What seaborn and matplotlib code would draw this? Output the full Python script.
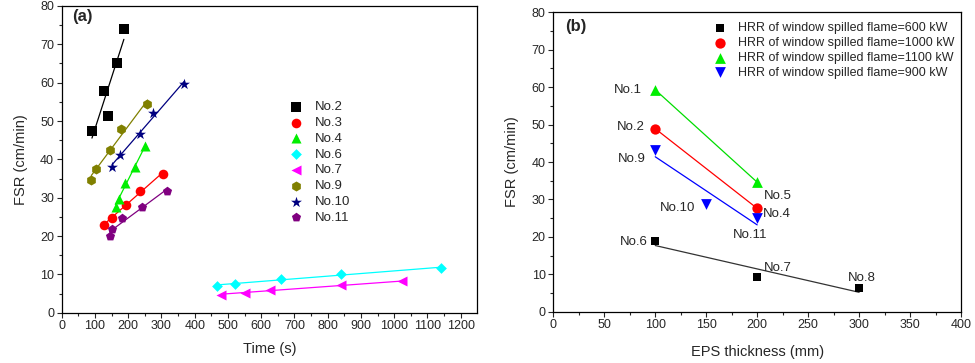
import numpy as np
import pandas as pd
import matplotlib
matplotlib.use("Agg")
import matplotlib.pyplot as plt
import seaborn as sns

sns.set_style("ticks")
plt.rcParams["font.family"] = ["Liberation Sans", "DejaVu Sans"]

# ---- Panel (a) data: FSR vs time ----
series_a = ["No.2", "No.3", "No.4", "No.6", "No.7", "No.9", "No.10", "No.11"]
t_no2 = [91, 127, 138, 165, 187]
f_no2 = [47.5, 57.9, 51.2, 65.0, 74.0]
t_no3 = [127, 150, 193, 235, 304]
f_no3 = [22.9, 24.7, 28.1, 31.7, 36.3]
t_no4 = [162, 171, 191, 219, 252]
f_no4 = [27.6, 29.7, 33.8, 38.0, 43.4]
t_no6 = [468, 520, 659, 841, 1142]
f_no6 = [7.0, 7.6, 8.8, 10.0, 11.7]
t_no7 = [480, 550, 627, 840, 1025]
f_no7 = [4.7, 5.2, 6.0, 7.1, 8.2]
t_no9 = [89, 102, 144, 179, 258]
f_no9 = [34.7, 37.5, 42.4, 47.8, 54.5]
t_no10 = [152, 174, 234, 276, 368]
f_no10 = [38.1, 41.1, 46.6, 52.2, 59.7]
t_no11 = [144, 152, 180, 242, 316]
f_no11 = [20.0, 21.7, 24.7, 27.6, 31.8]

# ---- Panel (b) data: FSR vs EPS thickness ----
hrr_labels = ["HRR of window spilled flame=600 kW",
              "HRR of window spilled flame=1000 kW",
              "HRR of window spilled flame=1100 kW",
              "HRR of window spilled flame=900 kW"]
eps_600 = [100, 200, 300]
fsr_600 = [18.8, 9.2, 6.3]
eps_1000 = [100, 200]
fsr_1000 = [48.9, 27.6]
eps_1100 = [100, 200]
fsr_1100 = [59.3, 34.6]
eps_900 = [100, 150, 200]
fsr_900 = [43.2, 28.7, 25.0]
case_names_b = ["No.1", "No.2", "No.9", "No.10", "No.5", "No.4", "No.11", "No.6", "No.7", "No.8"]

fig = plt.figure(figsize=(9.75, 3.63), dpi=100)
ax1 = fig.add_axes([0.0633, 0.1386, 0.4262, 0.8449])
ax2 = fig.add_axes([0.5675, 0.1413, 0.4182, 0.8248])

styles_a = [
    (t_no2, f_no2, "s", "black", 42),
    (t_no3, f_no3, "o", "red", 48),
    (t_no4, f_no4, "^", "#00ee00", 52),
    (t_no6, f_no6, "D", "cyan", 30),
    (t_no7, f_no7, "<", "magenta", 52),
    (t_no9, f_no9, "h", "#808000", 52),
    (t_no10, f_no10, "*", "#000080", 68),
    (t_no11, f_no11, "p", "#800080", 48),
]
for name, (tx, fy, mk, col, sz) in zip(series_a, styles_a):
    df = pd.DataFrame({"t": tx, "f": fy})
    sns.regplot(data=df, x="t", y="f", ax=ax1, ci=None, marker=mk, color=col,
                label=name,
                scatter_kws={"s": sz, "alpha": 1, "zorder": 3, "linewidths": 0},
                line_kws={"lw": 0.9, "zorder": 2})

styles_b = [
    (eps_600, fsr_600, "s", "black", "#333333", 38),
    (eps_1000, fsr_1000, "o", "red", "red", 55),
    (eps_1100, fsr_1100, "^", "#00ee00", "#00dd00", 60),
    (eps_900, fsr_900, "v", "blue", "blue", 60),
]
for name, (ex, fy, mk, col, lcol, sz) in zip(hrr_labels, styles_b):
    df = pd.DataFrame({"e": ex, "f": fy})
    sns.regplot(data=df, x="e", y="f", ax=ax2, ci=None, marker=mk, color=col,
                label=name,
                scatter_kws={"s": sz, "alpha": 1, "zorder": 3, "linewidths": 0},
                line_kws={"lw": 0.9, "zorder": 2, "color": lcol})

# text labels for panel (b)
label_pos = [(87, 59.3, "right"), (90, 49.3, "right"), (91, 40.8, "right"),
             (139, 27.6, "right"), (207, 31.0, "left"), (206, 26.1, "left"),
             (193, 20.6, "center"), (93, 18.6, "right"), (207, 11.8, "left"),
             (303, 8.9, "center")]
for name, (x, y, ha) in zip(case_names_b, label_pos):
    ax2.text(x, y, name, ha=ha, va="center", fontsize=9.5)

for ax in (ax1, ax2):
    ax.set_ylim(0, 80)
    ax.set_yticks(np.arange(0, 81, 10))
    ax.set_yticks(np.arange(5, 80, 10), minor=True)
    ax.tick_params(which="major", direction="out", length=3.5, width=0.8,
                   labelsize=9, pad=2)
    ax.tick_params(which="minor", direction="out", length=2, width=0.8)
    for sp in ax.spines.values():
        sp.set_visible(True)
        sp.set_linewidth(0.9)
        sp.set_color("black")
    ax.set_ylabel("FSR (cm/min)", fontsize=10.5, labelpad=9)

ax1.set_xlim(0, 1250)
ax1.set_xticks(np.arange(0, 1201, 100))
ax1.set_xticks(np.arange(50, 1250, 100), minor=True)
ax1.set_xlabel("Time (s)", fontsize=10.5, labelpad=7)

ax2.set_xlim(0, 400)
ax2.set_xticks(np.arange(0, 401, 50))
ax2.set_xticks(np.arange(25, 400, 50), minor=True)
ax2.set_xlabel("EPS thickness (mm)", fontsize=10.5, labelpad=10)

ax1.text(0.025, 0.965, "(a)", transform=ax1.transAxes, fontsize=12,
         fontweight="bold", ha="left", va="center")
ax2.text(0.029, 0.954, "(b)", transform=ax2.transAxes, fontsize=12,
         fontweight="bold", ha="left", va="center")

ax1.legend(loc="upper left", bbox_to_anchor=(0.549, 0.69), frameon=False,
           fontsize=9.5, handlelength=1.0, handletextpad=0.9,
           labelspacing=0.27, borderpad=0, borderaxespad=0)
ax2.legend(loc="upper left", bbox_to_anchor=(0.3935, 0.966), frameon=False,
           fontsize=9, handlelength=1.0, handletextpad=0.9,
           labelspacing=0.22, borderpad=0, borderaxespad=0)

fig.savefig("out.png", dpi=100)
